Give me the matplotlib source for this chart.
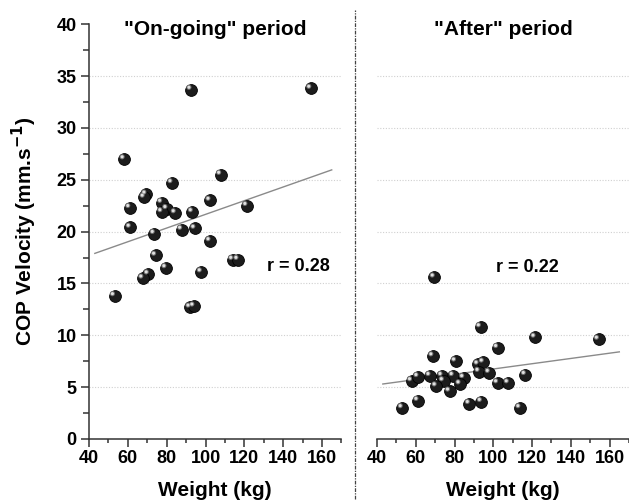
import matplotlib.pyplot as plt
from matplotlib.lines import Line2D
from matplotlib.ticker import MultipleLocator
import matplotlib.transforms as mtransforms
import numpy as np

plt.rcParams["font.family"] = ["Liberation Sans", "DejaVu Sans"]
plt.rcParams["font.weight"] = "bold"

# "On-going" period: weight (kg) vs COP velocity (mm/s)
peso_durante = [92.6, 154.3, 58.2, 107.9, 82.8, 69.4, 68.5, 61.1, 77.5, 80.2,
                77.6, 84.5, 93.3, 102.4, 121.4, 61.3, 73.7, 87.8, 94.6, 102.4,
                74.4, 79.7, 70.6, 67.8, 53.2, 97.9, 92.1, 94.1, 114.1, 116.8]
vel_durante = [33.7, 33.8, 27.0, 25.5, 24.7, 23.6, 23.3, 22.3, 22.8, 22.2,
               21.9, 21.8, 21.9, 23.0, 22.5, 20.4, 19.8, 20.2, 20.3, 19.1,
               17.7, 16.5, 15.9, 15.5, 13.8, 16.1, 12.7, 12.8, 17.3, 17.3]

# "After" period
peso_depois = [69.6, 93.4, 121.6, 154.3, 102.3, 68.9, 80.6, 92.2, 94.9, 92.7,
               98.0, 116.6, 57.9, 61.2, 67.4, 73.6, 79.4, 84.8, 74.3, 82.9,
               70.6, 77.5, 102.3, 107.8, 61.2, 87.7, 93.9, 53.1, 113.8]
vel_depois = [15.6, 10.8, 9.8, 9.6, 8.8, 8.0, 7.5, 7.2, 7.4, 6.5,
              6.4, 6.2, 5.6, 6.0, 6.1, 6.1, 6.1, 5.9, 5.6, 5.3,
              5.1, 4.6, 5.4, 5.4, 3.7, 3.4, 3.6, 3.0, 3.0]

# linha de tendência (inclinação, intercepto) e faixa em x
reta_durante = (0.066, 15.06)
reta_depois = (0.0254, 4.21)
faixa_reta = (43, 165)

titulos = ['"On-going" period', '"After" period']
textos_r = ["r = 0.28", "r = 0.22"]
pos_r = [(147.7, 16.6), (117.6, 16.5)]

fig = plt.figure(figsize=(6.29, 5.04), dpi=100)
ax1 = fig.add_axes([0.1415, 0.129, 0.4013, 0.823])
ax2 = fig.add_axes([0.5994, 0.129, 0.4006, 0.823])

dados = [(ax1, peso_durante, vel_durante, reta_durante),
         (ax2, peso_depois, vel_depois, reta_depois)]

for i, (ax, x, y, reta) in enumerate(dados):
    ax.set_xlim(40, 170)
    ax.set_ylim(0, 40)
    for v in range(5, 40, 5):
        ax.axhline(v, color="#d0d0d0", lw=0.8, ls=(0, (1, 1.5)), zorder=0)

    xs = np.array(faixa_reta)
    ax.plot(xs, reta[0] * xs + reta[1], color="#8a8a8a", lw=1.0, zorder=2)

    # esferas: marcador escuro + brilho deslocado
    ax.scatter(x, y, s=72, color="#1c1c1c", edgecolors="#000000",
               linewidths=0.6, zorder=3)
    brilho = ax.transData + mtransforms.ScaledTranslation(
        -1.6 / 72, 1.6 / 72, fig.dpi_scale_trans)
    ax.scatter(x, y, s=14, color="#6e6e6e", edgecolors="none",
               transform=brilho, zorder=4)
    ax.scatter(x, y, s=5, color="#e0e0e0", edgecolors="none",
               transform=brilho, zorder=5)

    ax.text(0.5, 0.986, titulos[i], transform=ax.transAxes, ha="center",
            va="center", fontsize=15, fontweight="bold")
    ax.text(pos_r[i][0], pos_r[i][1], textos_r[i], ha="center", va="center",
            fontsize=13, fontweight="bold")

    ax.set_xticks(range(40, 161, 20))
    ax.xaxis.set_minor_locator(MultipleLocator(10))
    ax.tick_params(axis="x", which="major", length=6, width=1.1,
                   color="#333333", labelsize=13, pad=2)
    ax.tick_params(axis="x", which="minor", length=3, width=1.1,
                   color="#333333")
    ax.set_xlabel("Weight (kg)", fontsize=15, fontweight="bold", labelpad=10)

    for lado in ["top", "right"]:
        ax.spines[lado].set_visible(False)
    ax.spines["bottom"].set_linewidth(1.1)
    ax.spines["bottom"].set_color("#333333")
    for lbl in ax.get_xticklabels():
        lbl.set_fontweight("bold")

ax1.set_yticks(range(0, 41, 5))
ax1.yaxis.set_minor_locator(MultipleLocator(2.5))
ax1.tick_params(axis="y", which="major", length=6, width=1.1,
                color="#333333", labelsize=13, pad=3)
ax1.tick_params(axis="y", which="minor", length=4, width=1.1, color="#333333")
ax1.spines["left"].set_linewidth(1.1)
ax1.spines["left"].set_color("#333333")
for lbl in ax1.get_yticklabels():
    lbl.set_fontweight("bold")
ax1.set_ylabel("COP Velocity (mm.s$^{\\mathbf{-1}}$)", fontsize=15,
               fontweight="bold")
ax1.yaxis.set_label_coords(-0.2, 0.5)

ax2.spines["left"].set_visible(False)
ax2.set_yticks([])

# divisória tracejada entre os painéis
fig.add_artist(Line2D([0.5644, 0.5644], [0.01, 0.98], transform=fig.transFigure,
                      color="#444444", lw=0.9, ls=(0, (3, 1, 1, 1))))

fig.savefig("out.png", dpi=100)
